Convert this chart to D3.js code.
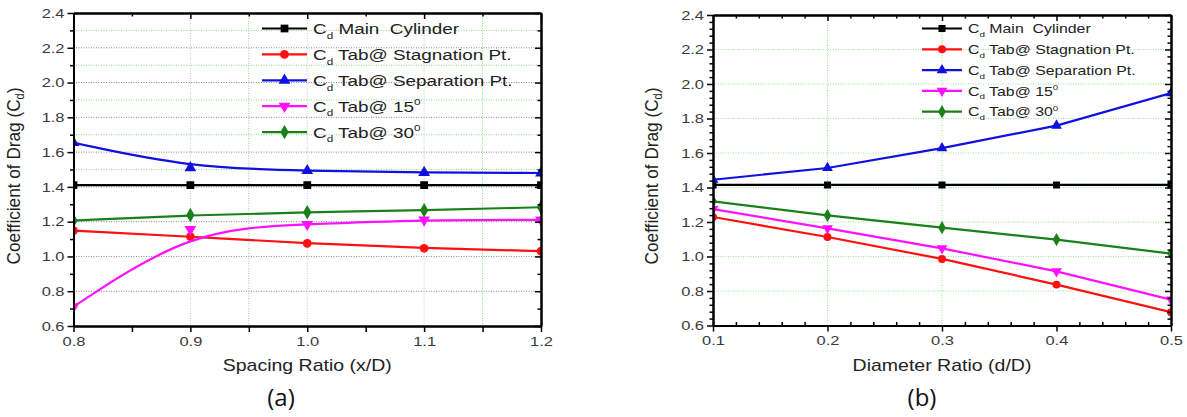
<!DOCTYPE html>
<html><head><meta charset="utf-8">
<script src="https://cdn.jsdelivr.net/npm/d3@7"></script>
<style>body{margin:0;background:#fff}svg{display:block}text{white-space:pre}</style>
</head><body><svg id="c" width="1187" height="417"></svg>
<script>
// ---------- data ----------
const seriesNames = ["Main  Cylinder", "Tab@ Stagnation Pt.", "Tab@ Separation Pt.", "Tab@ 15", "Tab@ 30"];
const seriesSup = ["", "", "", "0", "0"];
const seriesColors = ["#000000", "#ff1010", "#1010e0", "#ff10ff", "#1a801a"];
const seriesSymbols = ["square", "circle", "triUp", "triDown", "diamond"];

const xA = [0.8, 0.9, 1.0, 1.1, 1.2];
const mainA = [1.41, 1.41, 1.41, 1.41, 1.41];
const stagA = [1.148, 1.114, 1.075, 1.047, 1.031];
const sepA = [1.654, 1.51, 1.493, 1.482, 1.48];
const deg15A = [0.711, 1.156, 1.185, 1.21, 1.21];
const deg30A = [1.206, 1.238, 1.254, 1.266, 1.283];

const xB = [0.1, 0.2, 0.3, 0.4, 0.5];
const mainB = [1.415, 1.415, 1.415, 1.415, 1.415];
const stagB = [1.229, 1.113, 0.986, 0.837, 0.677];
const sepB = [1.445, 1.513, 1.628, 1.759, 1.947];
const deg15B = [1.275, 1.163, 1.047, 0.914, 0.75];
const deg30B = [1.32, 1.238, 1.167, 1.098, 1.017];

const yTicks = [0.6, 0.8, 1.0, 1.2, 1.4, 1.6, 1.8, 2.0, 2.2, 2.4];
const xTicksA = [0.8, 0.9, 1.0, 1.1, 1.2];
const xTicksB = [0.1, 0.2, 0.3, 0.4, 0.5];
const xTitleA = "Spacing Ratio (x/D)";
const xTitleB = "Diameter Ratio (d/D)";
const yTitle = "Coefficient of Drag (C";
const panelLabels = ["(a)", "(b)"];

// ---------- drawing ----------
const FONT = "Arial, 'Liberation Sans', sans-serif";
const SX = 1.22; // horizontal stretch of the text in the original figure
const svg = d3.select("#c");
const fmt = d3.format(".1f");

function symbolPath(kind, s) {
  const map = {square: d3.symbolSquare, circle: d3.symbolCircle, triUp: d3.symbolTriangle,
               triDown: d3.symbolTriangle, diamond: d3.symbolDiamond};
  return d3.symbol().type(map[kind]).size(s)();
}

function panel(cfg) {
  const g = svg.append("g");
  const x = d3.scaleLinear().domain(cfg.xDomain).range([cfg.left, cfg.right]);
  const y = d3.scaleLinear().domain([0.6, 2.4]).range([cfg.bottom, cfg.top]);
  const clipId = "clip" + cfg.id;
  svg.append("clipPath").attr("id", clipId).append("rect")
    .attr("x", cfg.left).attr("y", cfg.top).attr("width", cfg.right - cfg.left).attr("height", cfg.bottom - cfg.top);

  // gridlines
  const grid = g.append("g");
  const gl = (x1, x2, y1, y2, c) => grid.append("line").attr("x1", x1).attr("x2", x2).attr("y1", y1).attr("y2", y2)
    .attr("stroke", c).attr("stroke-width", 1).attr("stroke-dasharray", "1,1.5");
  cfg.hGridMajor.forEach(v => gl(cfg.left, cfg.right, y(v), y(v), cfg.majorGridColor));
  cfg.hGridMinor.forEach(v => gl(cfg.left, cfg.right, y(v), y(v), "#8ad88a"));
  cfg.vGridMajor.forEach(v => gl(x(v), x(v), cfg.top, cfg.bottom, cfg.vMajorColor));
  cfg.vGridMinor.forEach(v => gl(x(v), x(v), cfg.top, cfg.bottom, "#8ad88a"));

  // series
  const plot = g.append("g").attr("clip-path", `url(#${clipId})`);
  cfg.series.forEach((vals, i) => {
    const pts = vals.map((v, j) => [cfg.xs[j], v]);
    plot.append("path").datum(pts)
      .attr("d", d3.line().x(d => x(d[0])).y(d => y(d[1])).curve(cfg.curve))
      .attr("fill", "none").attr("stroke", seriesColors[i]).attr("stroke-width", 2.2);
    pts.forEach(p => {
      plot.append("path").attr("d", symbolPath(seriesSymbols[i], cfg.markerSize))
        .attr("transform", `translate(${x(p[0])},${y(p[1])})` + (seriesSymbols[i] === "triDown" ? " rotate(180)" : ""))
        .attr("fill", seriesColors[i]);
    });
  });

  // axes
  const yMinor = d3.range(0.6, 2.4001, 0.2 / cfg.yMinorDiv).filter(v => !yTicks.some(t => Math.abs(t - v) < 1e-6));
  const xStep = cfg.xTicks[1] - cfg.xTicks[0];
  const xMinor = d3.range(cfg.xDomain[0], cfg.xDomain[1] + 1e-6, xStep / cfg.xMinorDiv).filter(v => !cfg.xTicks.some(t => Math.abs(t - v) < 1e-6));

  const ax = g.append("g").attr("class", "axes");
  const left = ax.append("g").attr("transform", `translate(${cfg.left},0)`)
    .call(d3.axisLeft(y).tickValues(yTicks).tickFormat(fmt).tickSize(6).tickSizeOuter(0));
  ax.append("g").attr("transform", `translate(${cfg.left},0)`)
    .call(d3.axisLeft(y).tickValues(yMinor).tickFormat("").tickSize(3.5).tickSizeOuter(0));
  const bottom = ax.append("g").attr("transform", `translate(0,${cfg.bottom})`)
    .call(d3.axisBottom(x).tickValues(cfg.xTicks).tickFormat(fmt).tickSize(6).tickSizeOuter(0));
  ax.append("g").attr("transform", `translate(0,${cfg.bottom})`)
    .call(d3.axisBottom(x).tickValues(xMinor).tickFormat("").tickSize(cfg.xMinorOut).tickSizeOuter(0));
  ax.append("g").attr("transform", `translate(0,${cfg.top})`)
    .call(d3.axisTop(x).tickValues(cfg.xTicks).tickFormat("").tickSize(-6).tickSizeOuter(0));
  ax.append("g").attr("transform", `translate(0,${cfg.top})`)
    .call(d3.axisTop(x).tickValues(xMinor).tickFormat("").tickSize(-3.5).tickSizeOuter(0));
  ax.append("g").attr("transform", `translate(${cfg.right},0)`)
    .call(d3.axisRight(y).tickValues(yTicks).tickFormat("").tickSize(-6).tickSizeOuter(0));
  ax.append("g").attr("transform", `translate(${cfg.right},0)`)
    .call(d3.axisRight(y).tickValues(yMinor).tickFormat("").tickSize(-3.5).tickSizeOuter(0));
  ax.selectAll("path.domain").attr("stroke", "#000").attr("stroke-width", 2);
  ax.selectAll(".tick line").attr("stroke", "#000").attr("stroke-width", 1.5);
  ax.selectAll(".tick text").attr("font-family", FONT)
    .attr("font-size", 13.5).attr("fill", "#3a3a3a").attr("transform", `scale(${SX},1)`);
  left.selectAll(".tick text").attr("x", -9 / SX);
  bottom.selectAll(".tick text").attr("y", 10);

  // axis titles
  g.append("text").attr("transform", `translate(${(cfg.left + cfg.right) / 2},${cfg.bottom + 45}) scale(${SX},1)`)
    .attr("text-anchor", "middle").attr("font-family", FONT)
    .attr("font-size", 16).attr("fill", "#222").text(cfg.xTitle);
  const yt = g.append("text").attr("transform", `translate(${cfg.yTitleX},${cfg.yTitleY}) scale(1.12,1) rotate(-90)`)
    .attr("text-anchor", "middle").attr("font-family", FONT)
    .attr("font-size", 17.2).attr("fill", "#222");
  yt.append("tspan").text(yTitle);
  yt.append("tspan").attr("font-size", 11).attr("dy", 4).text("d");
  yt.append("tspan").attr("dy", -4).text(")");

  // panel label
  g.append("text").attr("x", cfg.labelX).attr("y", 406).attr("text-anchor", "middle")
    .attr("font-family", "'Open Sans', sans-serif").attr("font-size", 24).attr("fill", "#111").text(cfg.label);

  // legend
  const lg = g.append("g");
  seriesNames.forEach((name, i) => {
    const yy = cfg.legY0 + i * cfg.legDy;
    lg.append("line").attr("x1", cfg.legX1).attr("x2", cfg.legX2).attr("y1", yy).attr("y2", yy)
      .attr("stroke", seriesColors[i]).attr("stroke-width", 2.2);
    lg.append("path").attr("d", symbolPath(seriesSymbols[i], cfg.markerSize))
      .attr("transform", `translate(${(cfg.legX1 + cfg.legX2) / 2},${yy})` + (seriesSymbols[i] === "triDown" ? " rotate(180)" : ""))
      .attr("fill", seriesColors[i]);
    const t = lg.append("text")
      .attr("transform", `translate(${cfg.legX2 + 6},${yy + cfg.legFont * 0.36}) scale(${SX},1)`)
      .attr("font-family", FONT).attr("font-size", cfg.legFont).attr("fill", "#222");
    t.append("tspan").text("C");
    t.append("tspan").attr("font-size", cfg.legFont * 0.62).attr("dy", cfg.legFont * 0.3).text("d");
    t.append("tspan").attr("dy", -cfg.legFont * 0.3).text(" " + name);
    if (seriesSup[i]) t.append("tspan").attr("font-size", cfg.legFont * 0.62).attr("dy", -cfg.legFont * 0.45).text(seriesSup[i]);
  });
}

panel({
  id: "a", xDomain: [0.8, 1.2], xs: xA, xTicks: xTicksA,
  left: 73.5, right: 541, top: 13, bottom: 326,
  series: [mainA, stagA, sepA, deg15A, deg30A], curve: d3.curveBasis,
  hGridMajor: yTicks.slice(1, -1), hGridMinor: [1.5, 1.7, 1.9, 2.1, 2.3], majorGridColor: "#888",
  vGridMajor: [0.9, 1.0, 1.1], vMajorColor: "#c8c8c8", vGridMinor: [0.95, 1.15],
  yMinorDiv: 2, xMinorDiv: 2, xMinorOut: 6, markerSize: 60,
  xTitle: xTitleA, yTitleX: 20, yTitleY: 176, label: panelLabels[0], labelX: 281,
  legX1: 262, legX2: 307, legY0: 28.5, legDy: 25.9, legFont: 15.5
});

panel({
  id: "b", xDomain: [0.1, 0.5], xs: xB, xTicks: xTicksB,
  left: 713, right: 1171, top: 15, bottom: 325.5,
  series: [mainB, stagB, sepB, deg15B, deg30B], curve: d3.curveLinear,
  hGridMajor: yTicks.slice(1, -1), hGridMinor: [], majorGridColor: "#9de09d",
  vGridMajor: [0.2, 0.3], vMajorColor: "#9de09d", vGridMinor: [],
  yMinorDiv: 5, xMinorDiv: 5, xMinorOut: -3.5, markerSize: 50,
  xTitle: xTitleB, yTitleX: 658, yTitleY: 176, label: panelLabels[1], labelX: 922,
  legX1: 922, legX2: 962, legY0: 28.5, legDy: 20.8, legFont: 13
});
</script>
</body></html>
